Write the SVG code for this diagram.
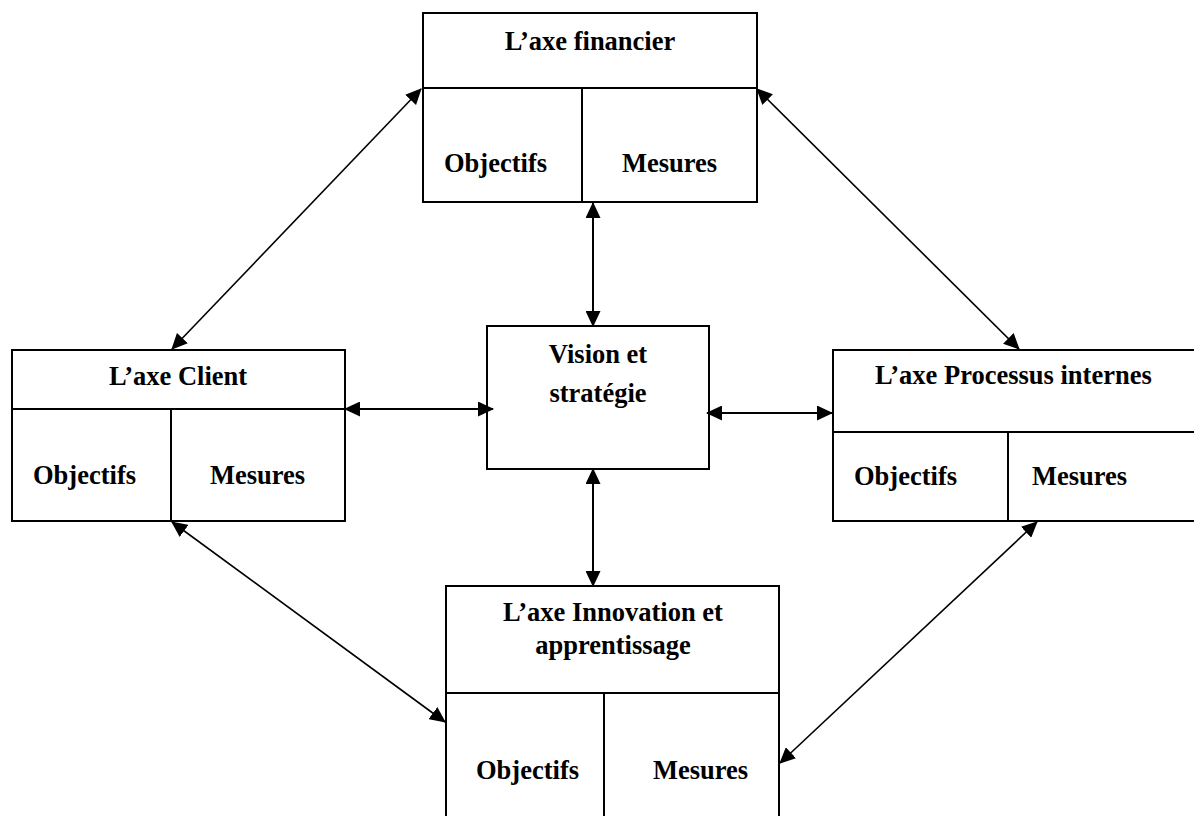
<svg xmlns="http://www.w3.org/2000/svg" width="1194" height="816" viewBox="0 0 1194 816">
  <style>
    .box { fill: #ffffff; stroke: #000000; stroke-width: 2; }
    .rule { stroke: #000000; stroke-width: 2; fill: none; }
    .lbl { font-family: "Liberation Serif", "Times New Roman", serif; font-weight: bold; font-size: 26.5px; fill: #000000; }
    .mid { text-anchor: middle; }
    .link { stroke: #000000; fill: none; marker-start: url(#head); marker-end: url(#head); }
    .straight { stroke-width: 2; }
    .slant { stroke-width: 1.6; }
  </style>
  <defs>
    <marker id="head" viewBox="0 0 16 15" refX="15" refY="7.5" markerWidth="16" markerHeight="15" markerUnits="userSpaceOnUse" orient="auto-start-reverse">
      <path d="M0,0 L16,7.5 L0,15 z" fill="#000000"/>
    </marker>
  </defs>
  <rect width="1194" height="816" fill="#ffffff"/>

  <!-- financial axis -->
  <g id="axe-financier">
    <rect class="box" x="423" y="13" width="334" height="189"/>
    <line class="rule" x1="423" y1="88" x2="757" y2="88"/>
    <line class="rule" x1="582" y1="88" x2="582" y2="202"/>
    <text class="lbl mid" x="590" y="50">L’axe financier</text>
    <text class="lbl" x="444" y="172">Objectifs</text>
    <text class="lbl" x="622" y="172">Mesures</text>
  </g>

  <!-- customer axis -->
  <g id="axe-client">
    <rect class="box" x="12" y="350" width="333" height="171"/>
    <line class="rule" x1="12" y1="409" x2="345" y2="409"/>
    <line class="rule" x1="171" y1="409" x2="171" y2="521"/>
    <text class="lbl mid" x="178" y="385">L’axe Client</text>
    <text class="lbl" x="33" y="484">Objectifs</text>
    <text class="lbl" x="210" y="484">Mesures</text>
  </g>

  <!-- vision and strategy -->
  <g id="vision">
    <rect class="box" x="487" y="326" width="222" height="143"/>
    <text class="lbl mid" x="598" y="363">Vision et</text>
    <text class="lbl mid" x="598" y="402">stratégie</text>
  </g>

  <!-- internal processes axis -->
  <g id="axe-processus">
    <rect class="box" x="833" y="350" width="380" height="171"/>
    <line class="rule" x1="833" y1="432" x2="1213" y2="432"/>
    <line class="rule" x1="1008" y1="432" x2="1008" y2="521"/>
    <text class="lbl" x="875" y="384">L’axe Processus internes</text>
    <text class="lbl" x="854" y="485">Objectifs</text>
    <text class="lbl" x="1032" y="485">Mesures</text>
  </g>

  <!-- innovation and learning axis -->
  <g id="axe-innovation">
    <rect class="box" x="446" y="586" width="333" height="250"/>
    <line class="rule" x1="446" y1="693" x2="779" y2="693"/>
    <line class="rule" x1="604" y1="693" x2="604" y2="836"/>
    <text class="lbl mid" x="613" y="621">L’axe Innovation et</text>
    <text class="lbl mid" x="613" y="654">apprentissage</text>
    <text class="lbl" x="476" y="779">Objectifs</text>
    <text class="lbl" x="653" y="779">Mesures</text>
  </g>

  <!-- two-way links -->
  <g id="connectors">
    <line class="link straight" x1="593" y1="203" x2="593" y2="326"/>
    <line class="link straight" x1="593" y1="469" x2="593" y2="586"/>
    <line class="link straight" x1="345" y1="409" x2="493" y2="409"/>
    <line class="link straight" x1="707" y1="413" x2="832" y2="413"/>
    <line class="link slant" x1="421" y1="89" x2="172" y2="349"/>
    <line class="link slant" x1="757" y1="89" x2="1019" y2="349"/>
    <line class="link slant" x1="172" y1="522" x2="445" y2="722"/>
    <line class="link slant" x1="1037" y1="522" x2="780" y2="763"/>
  </g>
</svg>
